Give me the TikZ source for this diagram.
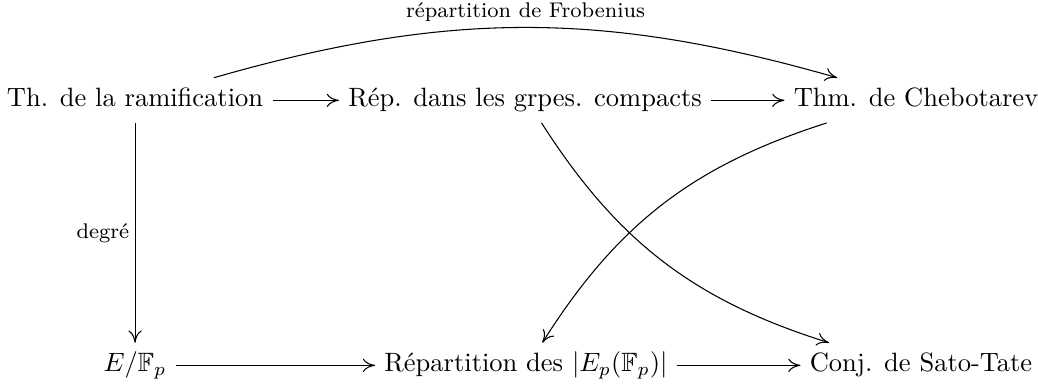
\documentclass[tikz,border=0pt]{standalone}
\usepackage{amsmath,amssymb}
\usepackage{fontspec}
\usepackage{tikz}
\usetikzlibrary{arrows.meta, positioning}

\begin{document}
\begin{tikzpicture}[
    >={To[length=4.6pt, width=5pt]},
    % Styles for the objects and the maps
    obj/.style={anchor=base, text height=0.75em, text depth=0.25em, inner sep=0.3333em},
    lbl/.style={font=\footnotesize, inner sep=2pt},
    map/.style={->, line width=0.4pt}
]
    \useasboundingbox (0,0) rectangle (13.768,5.133);

    % 1. The top row
    \node[obj] (Ram) at (1.791,3.714) {Th. de la ramification};
    \node[obj] (Rep) at (6.964,3.714) {Rép. dans les grpes. compacts};
    \node[obj] (Cheb) at (12.150,3.714) {Thm. de Chebotarev};

    % 2. The bottom row
    \node[obj] (EFp) at (1.791,0.199) {$E/\mathbb{F}_p$};
    \node[obj] (Repart) at (6.977,0.199) {Répartition des $|E_p(\mathbb{F}_p)|$};
    \node[obj] (Sato) at (12.216,0.199) {Conj. de Sato-Tate};

    % 3. Straight maps
    \draw[map] (Ram) -- (Rep);
    \draw[map] (Rep) -- (Cheb);
    \draw[map] (EFp) -- (Repart);
    \draw[map] (Repart) -- (Sato);
    \draw[map] (Ram) -- node[lbl, left] {degré} (EFp);

    % 4. Bent maps
    \draw[map] (Ram) to[bend left=16] node[lbl, above] {répartition de Frobenius} (Cheb);
    \draw[map] (Rep) to[bend right=20] (Sato);
    \draw[map] (Cheb) to[bend right=20] (Repart);

\end{tikzpicture}
\end{document}
